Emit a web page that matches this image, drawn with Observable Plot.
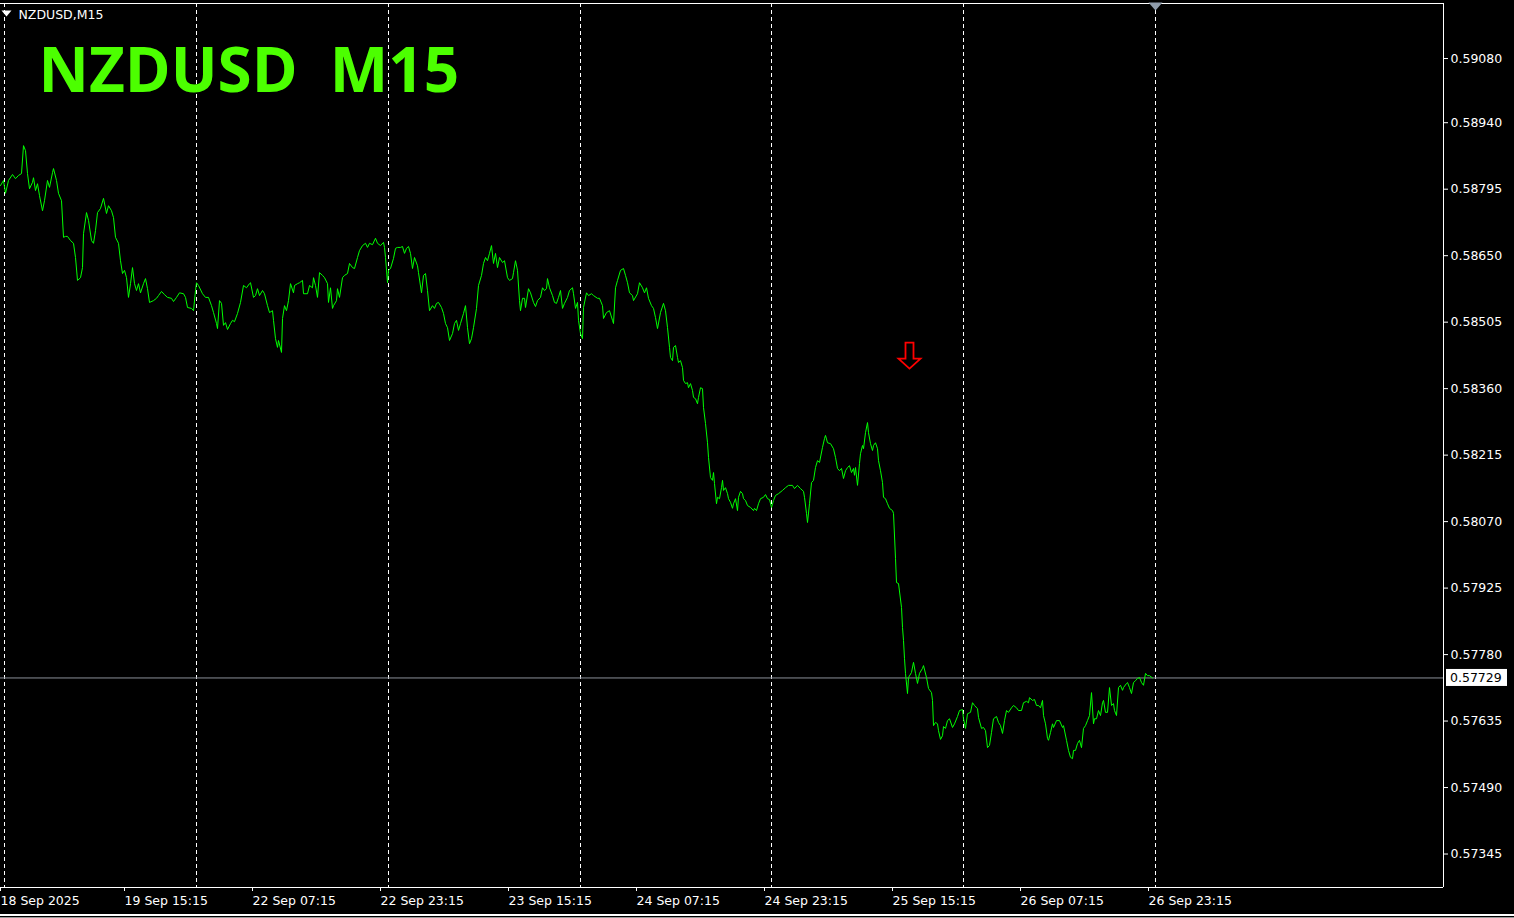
<!DOCTYPE html>
<html><head><meta charset="utf-8">
<script src="https://cdn.jsdelivr.net/npm/d3@7"></script>
<script src="https://cdn.jsdelivr.net/npm/@observablehq/plot@0.6"></script>
<style>
html,body{margin:0;padding:0;background:#000;}
#chart{width:1514px;height:918px;position:relative;overflow:hidden;background:#000}
#chart svg text{white-space:pre}
.b1{position:absolute;left:0;top:914px;width:1514px;height:2px;background:#fff}
.b2{position:absolute;left:0;top:917px;width:1514px;height:1px;background:#9a9a9a}
</style></head><body>
<div id="chart"><div class="b1"></div><div class="b2"></div></div>
<script>
const symbolName = "NZDUSD";
const timeframe = "M15";
const currentPrice = 0.57729;

// y-axis tick labels (price)
const yTicks = [0.59080,0.58940,0.58795,0.58650,0.58505,0.58360,0.58215,0.58070,0.57925,0.57780,0.57635,0.57490,0.57345];
const yDomain = [0.57272, 0.59200];

// x-axis: bar index (M15 bars) and tick labels
const xDomain = [0, 721.5];
const xTickBars = [0, 62, 126, 190, 254, 318, 382, 446, 510, 574];
const xTickLabels = ["18 Sep 2025","19 Sep 15:15","22 Sep 07:15","22 Sep 23:15","23 Sep 15:15","24 Sep 07:15","24 Sep 23:15","25 Sep 15:15","26 Sep 07:15","26 Sep 23:15"];
const separatorBars = [2, 98, 194, 290, 385.5, 481.5, 577.5];
const shiftMarkerBar = [577.5];
const sellArrows = [{bar: 454.5, price: 0.58432}];

// close prices
const bars1 = [0,1.5,2.5,4,6,7.5,9,10.5,11.5,12.5,
13.5,14.5,16,16.5,17.5,18.5,19.5,21,22,23.5,
24.5,26,26.5,28,29,30.5,31.5,32.5,33.5,35,
36.5,37.5,38.5,40,41,41.5,43,44,45.5,46.5,
47.5,48.5,50,51.5,53,54,55.5,56.5,57.5,59,
60,61,62,63,64,65,66,67,68,69,
70,71.5,72.5,73.5,74.5,76.5,78,79,80.5,82,
83.5,85.5,86.5,88,89.5,91.5,92.5,93.5,95.5,96.5,
97.5,98,99,101,102.5,104,105.5,106.5,108,108.5,
109.5,110.5,111.5,112.5,113.5,115,116,117,118.5,120,
121.5,123,124.5];
const closes1 = [0.58803,0.58814,0.58786,0.58814,0.58827,0.58818,0.58825,0.58829,0.58890,0.58879,
0.58829,0.58796,0.58810,0.58820,0.58792,0.58807,0.58781,0.58748,0.58770,0.58814,
0.58799,0.58831,0.58840,0.58814,0.58786,0.58770,0.58690,0.58692,0.58692,0.58683,
0.58677,0.58646,0.58596,0.58602,0.58624,0.58698,0.58744,0.58727,0.58683,0.58677,
0.58705,0.58744,0.58753,0.58775,0.58742,0.58759,0.58748,0.58733,0.58690,0.58677,
0.58639,0.58611,0.58618,0.58602,0.58559,0.58589,0.58624,0.58589,0.58574,0.58589,
0.58569,0.58589,0.58600,0.58578,0.58548,0.58552,0.58557,0.58563,0.58572,0.58565,
0.58559,0.58557,0.58550,0.58559,0.58569,0.58567,0.58559,0.58537,0.58535,0.58530,
0.58574,0.58591,0.58585,0.58567,0.58559,0.58559,0.58541,0.58526,0.58502,0.58491,
0.58552,0.58546,0.58498,0.58504,0.58489,0.58502,0.58509,0.58506,0.58524,0.58548,
0.58585,0.58580,0.58589];

const bars2 = [125,126.5,127.5,128.5,129.5,131,132,133.5,134.5,136,
136.5,137.5,138.5,139,140.5,141,142,143,144,145,
146.5,147,148.5,149.5,151,151.5,153.5,154.5,156,156.5,
157.5,158.5,159.5,161,162,163.5,164,165,166,166.5,
168,168.5,169.5,171,172,173.5,174.5,176,177,178.5,
179.5,181,182.5,183.5,184.5,186,187.5,188.5,190,191.5,
192,192.5,193.5,194,195,196.5,197.5,198.5,200,201,
202,203,204,205,206,207,208.5,209,210.5,211.5,
212.5,213.5,214.5,216,217,218,219,220.5,221.5,222.5,
223.5,224.5,226,227,228,229,230,231.5,232.5,233.5,
234.5,235.5,236.5,238,239,240.5,241.5,242.5,243.5,244.5,
245.5,246.5,247.5,248.5,249.5,251,252,253.5,254.5,256,
256.5,257.5,258.5,259.5,260,261,262,262.5,264,265,
266.5,267.5,268.5,270,271,272,273,273.5,274.5,276,
277,278,279,280,281,282,283.5,284.5,286,286.5,
287.5,288.5,289,290,291,291.5,293,294,295.5,296.5,
298.5,299.5,301,301.5,303,304.5,306,306.5,307.5,308.5,
310,311.5,312.5,313.5,314.5,316,316.5,318.5,319.5,321,
322,323,324,325.5,326.5,327.5,328.5,330,331.5,332.5,
333.5,334.5];
const closes2 = [0.58591,0.58559,0.58563,0.58578,0.58563,0.58574,0.58567,0.58541,0.58526,0.58530,
0.58509,0.58469,0.58450,0.58465,0.58439,0.58513,0.58541,0.58530,0.58552,0.58589,
0.58569,0.58585,0.58589,0.58591,0.58596,0.58567,0.58567,0.58585,0.58580,0.58602,
0.58585,0.58559,0.58613,0.58607,0.58602,0.58589,0.58548,0.58580,0.58535,0.58541,
0.58552,0.58578,0.58559,0.58602,0.58607,0.58611,0.58633,0.58624,0.58622,0.58646,
0.58661,0.58672,0.58677,0.58668,0.58677,0.58674,0.58688,0.58677,0.58672,0.58679,
0.58668,0.58646,0.58591,0.58618,0.58622,0.58644,0.58666,0.58668,0.58668,0.58670,
0.58655,0.58666,0.58670,0.58655,0.58622,0.58646,0.58628,0.58613,0.58569,0.58607,
0.58611,0.58574,0.58530,0.58541,0.58535,0.58546,0.58548,0.58537,0.58524,0.58502,
0.58493,0.58465,0.58480,0.58502,0.58509,0.58487,0.58502,0.58524,0.58541,0.58493,
0.58458,0.58469,0.58493,0.58535,0.58585,0.58607,0.58633,0.58646,0.58639,0.58655,
0.58672,0.58633,0.58655,0.58624,0.58646,0.58635,0.58639,0.58602,0.58596,0.58600,
0.58613,0.58639,0.58618,0.58552,0.58530,0.58557,0.58557,0.58537,0.58578,0.58569,
0.58548,0.58539,0.58552,0.58559,0.58580,0.58574,0.58578,0.58600,0.58580,0.58563,
0.58548,0.58546,0.58559,0.58574,0.58535,0.58546,0.58559,0.58574,0.58580,0.58567,
0.58535,0.58548,0.58509,0.58480,0.58469,0.58537,0.58569,0.58563,0.58567,0.58563,
0.58557,0.58557,0.58541,0.58513,0.58526,0.58530,0.58509,0.58502,0.58580,0.58596,
0.58618,0.58622,0.58607,0.58591,0.58569,0.58563,0.58552,0.58567,0.58591,0.58580,
0.58569,0.58580,0.58557,0.58541,0.58535,0.58515,0.58491,0.58526,0.58546,0.58530,
0.58493,0.58450];

const bars3 = [335,336,336.5,337.5,338.5,339,340,341,341.5,342.5,
343.5,344,345,346,346.5,347.5,348.5,349,350,351,
351.5,352.5,353.5,354,355,356,356.5,357,358,358.5,
359.5,360.5,361,361.5,362.5,363.5,364,365,366,366.5,
367.5,368.5,369,370,371,371.5,372.5,373.5,375,376.5,
377,378,379,380,381.5,382.5,383.5,384.5,385.5,386.5,
387.5,389,391,392.5,394,396,397,398.5,400,401.5,
402,403,403.5,404.5,405.5,406.5,407.5,408.5,409.5,411,
412,412.5,413.5,415,416.5,417.5,418.5,419.5,420.5,421.5,
422.5,423.5,424.5,425.5,426.5,427,427.5,428.5,429.5,430,
431,431.5,432.5,433.5,434,435,436,436.5,437.5,438.5,
439,440,441,441.5,442.5,443.5,444.5,446,446.5,447.5,
448,449,450.5,451,451.5,452,452.5,453.5];
const closes3 = [0.58428,0.58421,0.58450,0.58454,0.58428,0.58417,0.58421,0.58406,0.58378,0.58371,
0.58373,0.58362,0.58371,0.58356,0.58341,0.58338,0.58327,0.58341,0.58362,0.58360,
0.58319,0.58284,0.58242,0.58210,0.58166,0.58160,0.58177,0.58153,0.58109,0.58123,
0.58120,0.58144,0.58160,0.58138,0.58144,0.58131,0.58120,0.58112,0.58099,0.58109,
0.58120,0.58094,0.58123,0.58136,0.58131,0.58120,0.58116,0.58105,0.58101,0.58094,
0.58099,0.58094,0.58109,0.58120,0.58123,0.58129,0.58120,0.58118,0.58101,0.58116,
0.58127,0.58131,0.58138,0.58144,0.58149,0.58149,0.58142,0.58149,0.58142,0.58136,
0.58123,0.58088,0.58068,0.58109,0.58155,0.58160,0.58188,0.58203,0.58199,0.58232,
0.58251,0.58258,0.58242,0.58240,0.58229,0.58210,0.58186,0.58181,0.58186,0.58164,
0.58181,0.58188,0.58192,0.58177,0.58186,0.58171,0.58188,0.58149,0.58197,0.58218,
0.58236,0.58229,0.58264,0.58286,0.58264,0.58240,0.58225,0.58236,0.58242,0.58229,
0.58203,0.58181,0.58155,0.58123,0.58120,0.58109,0.58099,0.58094,0.58088,0.57990,
0.57937,0.57935,0.57883,0.57839,0.57811,0.57771,0.57739,0.57695];

const bars4 = [454,455.5,456.5,457.5,458.5,459.5,461,461.5,463,464,
465.5,466,466.5,467.5,468.5,469,470,471,471.5,472.5,
473.5,474.5,476,477,478.5,479.5,481,481.5,482.5,483.5,
485,486,487,488.5,489,490.5,491.5,492.5,493.5,494.5,
495.5,496.5,498,499,500,501,502,503,504,505.5,
506.5,508,509,510.5,511.5,513,514,514.5,516,517,
518,519,520,521,521.5,522.5,523.5,524,525,526,
526.5,528,529.5,531,531.5,533,534,535,536,536.5,
537.5,538.5,539.5,540.5,541.5,542.5,543.5,544.5,545.5,546.5,
547,548,549,550,551,551.5,552.5,553.5,554.5,555.5,
556.5,557,558,559,560,561,561.5,563,563.5,564.5,
565.5,566.5,567.5,568.5,569.5,570.5,571.5,572.5,573.5,574.5,
576];
const closes4 = [0.57730,0.57741,0.57763,0.57739,0.57717,0.57739,0.57750,0.57756,0.57730,0.57706,
0.57697,0.57680,0.57625,0.57632,0.57629,0.57614,0.57595,0.57603,0.57623,0.57619,
0.57636,0.57640,0.57621,0.57629,0.57645,0.57658,0.57660,0.57640,0.57619,0.57651,
0.57654,0.57675,0.57669,0.57662,0.57643,0.57619,0.57621,0.57614,0.57577,0.57582,
0.57610,0.57640,0.57645,0.57632,0.57625,0.57608,0.57636,0.57658,0.57654,0.57664,
0.57669,0.57664,0.57658,0.57658,0.57675,0.57678,0.57675,0.57686,0.57680,0.57682,
0.57669,0.57669,0.57664,0.57680,0.57647,0.57629,0.57597,0.57593,0.57610,0.57629,
0.57621,0.57636,0.57636,0.57621,0.57625,0.57593,0.57571,0.57556,0.57553,0.57571,
0.57571,0.57586,0.57593,0.57577,0.57619,0.57625,0.57636,0.57647,0.57697,0.57629,
0.57640,0.57640,0.57658,0.57647,0.57675,0.57680,0.57654,0.57654,0.57708,0.57669,
0.57673,0.57658,0.57647,0.57708,0.57713,0.57702,0.57708,0.57717,0.57719,0.57708,
0.57695,0.57719,0.57723,0.57728,0.57730,0.57719,0.57713,0.57739,0.57734,0.57734,
0.57729];

const bars = [...bars1, ...bars2, ...bars3, ...bars4];
const closes = [...closes1, ...closes2, ...closes3, ...closes4];
const rows = bars.map((b, i) => ({bar: b, close: closes[i]}));

const arrowSymbol = {draw(ctx) {
  ctx.moveTo(-4, -13); ctx.lineTo(4, -13); ctx.lineTo(4, 3); ctx.lineTo(11, 3);
  ctx.lineTo(0, 13); ctx.lineTo(-11, 3); ctx.lineTo(-4, 3); ctx.closePath();
}};
const downTriangle = {draw(ctx) {
  ctx.moveTo(-7, -4); ctx.lineTo(7, -4); ctx.lineTo(0, 4); ctx.closePath();
}};
const smallDownTriangle = {draw(ctx) {
  ctx.moveTo(-5, -3); ctx.lineTo(5, -3); ctx.lineTo(0, 3); ctx.closePath();
}};

// current-price label: white box on the price axis, placed with the plot's y scale
function priceLabel(index, scales, values, dimensions) {
  const y = scales.y(currentPrice);
  const x0 = dimensions.width - dimensions.marginRight;
  const g = d3.create("svg:g");
  g.append("rect").attr("x", x0 + 3).attr("y", y - 8.5).attr("width", 61).attr("height", 17).attr("fill", "#fff");
  g.append("text").attr("x", x0 + 7).attr("y", y).attr("dy", "0.35em").attr("fill", "#000")
    .attr("text-anchor", "start")
    .attr("font-size", 12.5).attr("font-family", "'DejaVu Sans', sans-serif").text(currentPrice.toFixed(5));
  return g.node();
}

const chart = Plot.plot({
  width: 1514, height: 914,
  marginTop: 3, marginBottom: 27, marginLeft: 0, marginRight: 71,
  style: {background: "#000", color: "#fff", fontFamily: "'DejaVu Sans', sans-serif", fontSize: "12.5px", overflow: "visible"},
  x: {domain: xDomain, axis: null},
  y: {domain: yDomain, axis: null},
  marks: [
    Plot.ruleX(separatorBars, {stroke: "#fff", strokeDasharray: "4,3"}),
    Plot.ruleY([currentPrice], {stroke: "#8a8f99"}),
    Plot.ruleY([yDomain[1]], {stroke: "#fff"}),
    Plot.ruleY([yDomain[0]], {stroke: "#fff"}),
    Plot.ruleX([xDomain[1]], {stroke: "#fff"}),
    Plot.line(rows, {x: "bar", y: "close", stroke: "#00ff00", strokeWidth: 1}),
    Plot.axisX({ticks: xTickBars, tickFormat: d => xTickLabels[xTickBars.indexOf(d)], tickSize: 4, tickPadding: 5, textAnchor: "start", dx: 0, label: null}),
    Plot.axisY({anchor: "right", ticks: yTicks, tickFormat: d => d.toFixed(5), tickSize: 4, tickPadding: 3, label: null}),
    priceLabel,
    Plot.dot(sellArrows, {x: "bar", y: "price", symbol: arrowSymbol, stroke: "#ff0000", fill: "none", strokeWidth: 1.8}),
    Plot.dot(shiftMarkerBar, {x: d => d, frameAnchor: "top", dy: 3, symbol: downTriangle, fill: "#8f9cab", stroke: "none"}),
    Plot.dot([symbolName], {frameAnchor: "top-left", dx: 6, dy: 10, symbol: smallDownTriangle, fill: "#fff", stroke: "none"}),
    Plot.text([symbolName + "," + timeframe], {frameAnchor: "top-left", dx: 18, dy: 7, lineAnchor: "top", textAnchor: "start", fill: "#fff", fontSize: 12.5}),
    Plot.text([symbolName + "  " + timeframe], {frameAnchor: "top-left", dx: 38, dy: 44, lineAnchor: "top", textAnchor: "start", fill: "#4cff00", fontSize: 62, fontWeight: "bold", fontFamily: "'Open Sans', sans-serif"})
  ]
});
const host = document.getElementById("chart");
host.insertBefore(chart, host.firstChild);
</script>
</body></html>
